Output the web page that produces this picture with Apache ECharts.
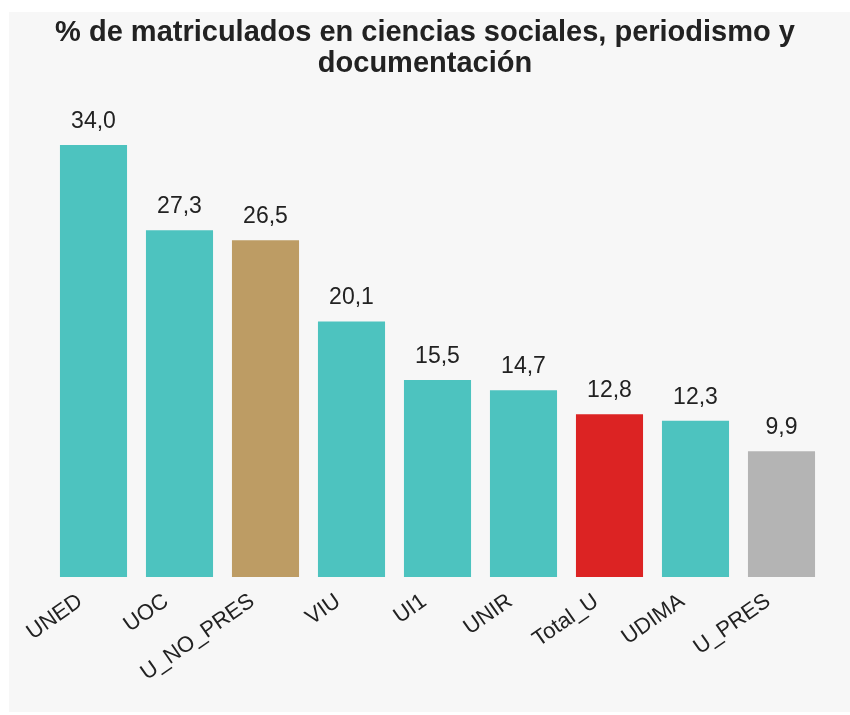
<!DOCTYPE html>
<html>
<head>
<meta charset="utf-8">
<script src="https://cdn.jsdelivr.net/npm/echarts@6/dist/echarts.min.js"></script>
<style>html,body{margin:0;padding:0;background:#fff;}#c{width:850px;height:715px;}</style>
</head>
<body>
<div id="c"></div>
<script>
const categories = ['UNED','UOC','U_NO_PRES','VIU','UI1','UNIR','Total_U','UDIMA','U_PRES'];
const values = [34.0, 27.3, 26.5, 20.1, 15.5, 14.7, 12.8, 12.3, 9.9];
const barColors = ['#4dc3bf','#4dc3bf','#bd9c64','#4dc3bf','#4dc3bf','#4dc3bf','#dc2323','#4dc3bf','#b4b4b4'];
const titleText = '% de matriculados en ciencias sociales, periodismo y\ndocumentación';

const FONT = 'Liberation Sans, Arial, sans-serif';
const chart = echarts.init(document.getElementById('c'), null, {renderer:'canvas'});
chart.setOption({
  backgroundColor: '#ffffff',
  animation: false,
  graphic: [{
    type: 'rect', z: -10, silent: true,
    shape: {x: 9, y: 12, width: 841, height: 700},
    style: {fill: '#f7f7f7'}
  }],
  title: {
    text: titleText,
    left: 'center', top: 12,
    padding: [5, 5, 5, 13],
    textStyle: {fontFamily: FONT, fontWeight: 'bold', fontSize: 29, color: '#222', lineHeight: 31}
  },
  grid: {left: 50.5, right: 25.5, top: 145, bottom: 138, containLabel: false},
  xAxis: {
    type: 'category', data: categories,
    axisLine: {show: false}, axisTick: {show: false},
    axisLabel: {rotate: 35, interval: 0, margin: 13, padding: [0, 16, 0, 0], fontSize: 22, color: '#222', fontFamily: FONT}
  },
  yAxis: {type: 'value', min: 0, max: 34, show: false, splitLine: {show: false}},
  series: [{
    type: 'bar',
    data: values.map((v, i) => ({value: v, itemStyle: {color: barColors[i]}})),
    barCategoryGap: '22%',
    label: {
      show: true, position: 'top', distance: 12,
      fontSize: 23, color: '#222', fontFamily: FONT,
      formatter: p => p.value.toFixed(1).replace('.', ',')
    }
  }]
});
</script>
</body>
</html>
